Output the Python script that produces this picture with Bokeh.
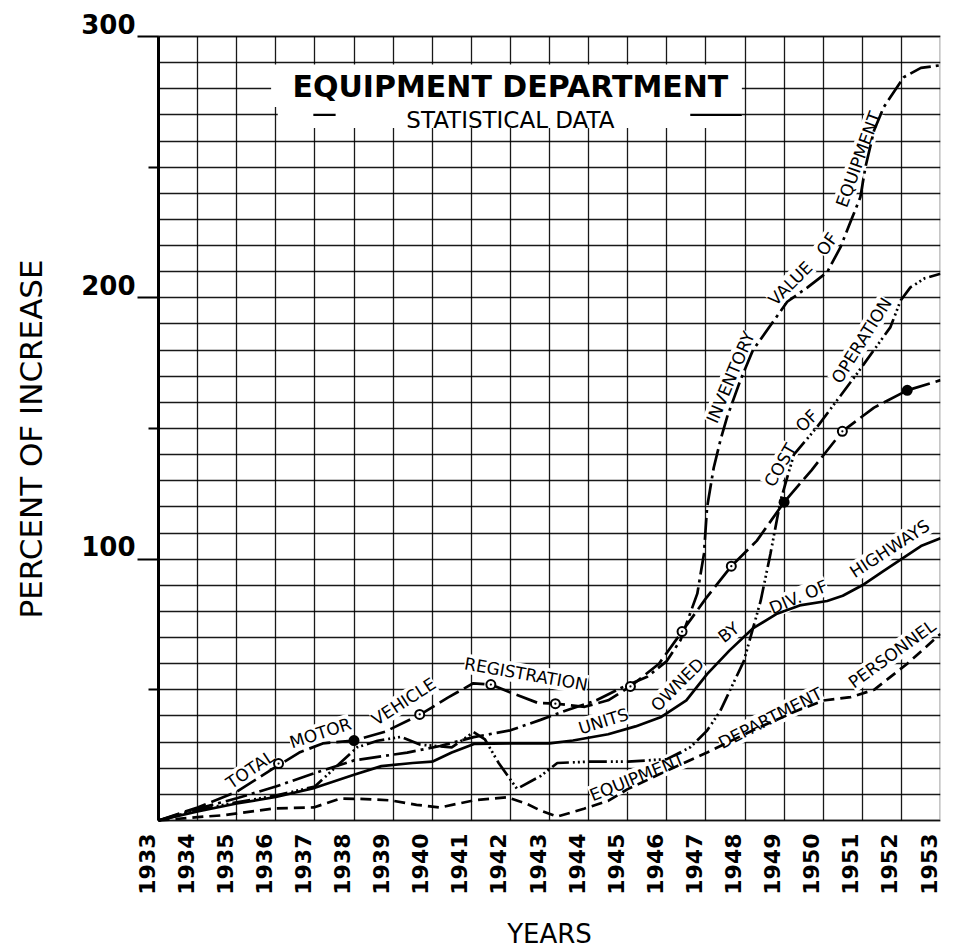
import math
from bokeh.plotting import figure
from bokeh.models import (FixedTicker, Label, LabelSet, ColumnDataSource, Grid,
                          BoxAnnotation, Range1d, CustomJSTickFormatter)
from bokeh.embed import file_html
from bokeh.resources import INLINE
from bokeh.core.properties import value

# ---------------- data ----------------
years = list(range(1933, 1954))
year_labels = [str(y) for y in years]
y_tick_values = [100, 200, 300]
y_tick_labels = ["100", "200", "300"]
y_minor_values = [50, 150, 250]
y_grid_values = list(range(0, 301, 10))

title_text = "EQUIPMENT DEPARTMENT"
subtitle_text = "STATISTICAL DATA"
x_title = "YEARS"
y_title = "PERCENT OF INCREASE"

# Total motor vehicle registration
reg_x = [1933, 1934, 1935, 1936, 1936.6, 1937.2, 1938, 1938.8, 1939.7, 1940.4, 1941.05,
         1941.5, 1942, 1942.7, 1943.15, 1943.9, 1944.5, 1945.07, 1945.8, 1946.39, 1947,
         1947.65, 1948.3, 1949.0, 1949.7, 1950.49, 1951.3, 1952.15, 1953]
reg_y = [0, 5, 11, 20.5, 26, 29.5, 30.6, 34, 40.6, 47, 52.5,
         52, 49, 45, 44.7, 43.5, 46, 51.3, 60, 72.3, 85,
         97.3, 107, 121.8, 134, 148.9, 158, 164.6, 168.5]
reg_mark_x = [1936.07, 1938.0, 1939.68, 1941.5, 1943.15, 1945.07, 1946.39, 1947.65, 1949.0, 1950.49, 1952.15]
reg_mark_y = [21.8, 30.6, 40.6, 52, 44.7, 51.3, 72.3, 97.3, 121.8, 148.9, 164.6]
reg_mark_filled = [False, True, False, False, False, False, False, False, True, False, True]

# Units owned by Div. of Highways
units_x = [1933, 1934, 1935, 1936, 1937, 1938, 1938.7, 1939.5, 1940, 1940.5, 1941.07,
           1942, 1943, 1943.6, 1944.5, 1945.2, 1945.84, 1946.5, 1947.03, 1947.6, 1948.2,
           1948.8, 1949.4, 1950.1, 1950.5, 1951, 1951.5, 1952, 1952.5, 1953]
units_y = [0, 3.5, 6.5, 9, 12.5, 17.5, 20.8, 22, 22.5, 26, 29.3,
           29.5, 29.5, 30.6, 33, 36, 39.5, 46, 56, 65, 73.5,
           79, 82.3, 84, 86, 90, 95, 100, 105, 108]

# Equipment department personnel
pers_x = [1933, 1934, 1934.66, 1935.95, 1936.97, 1937.65, 1938.3, 1938.93, 1939.6, 1940.2,
          1941.06, 1941.92, 1942.4, 1942.77, 1943.2, 1943.88, 1944.5, 1945.0, 1946.0, 1947.03,
          1948.2, 1949.25, 1950.0, 1950.7, 1951.3, 1952.15, 1953]
pers_y = [0, 1.3, 2, 4.6, 5, 8.4, 8.2, 7.7, 6, 5,
          7.7, 8.9, 6.5, 3.8, 1.5, 4.5, 7.5, 12, 19, 26,
          34.5, 41.5, 45.9, 47.2, 50, 60, 71.4]

# Inventory value of equipment
inv_x = [1933, 1934, 1935, 1936, 1936.97, 1938, 1939.36, 1940.2, 1941.06, 1942, 1942.77,
         1943.5, 1944.2, 1944.8, 1945.5, 1946, 1946.35, 1946.78, 1946.95, 1947.03, 1947.2,
         1947.37, 1947.54, 1947.88, 1948.2, 1948.74, 1949.08, 1949.6, 1950.1, 1950.44,
         1950.75, 1950.95, 1951.08, 1951.3, 1951.55, 1952.06, 1952.5, 1953]
inv_y = [0, 4.5, 8.5, 13, 18, 23, 26, 28.5, 31.9, 34.5, 38.5,
         42.5, 46, 50.5, 55, 61, 69, 86.8, 102, 119.8, 135,
         145.4, 154.3, 168.4, 179.9, 191.3, 198.5, 204, 209.8, 219.3,
         231, 238.5, 250, 264, 273, 284.4, 288, 289]

# Cost of operation
cost_x = [1933, 1934, 1935, 1936, 1937, 1937.5, 1938.08, 1938.6, 1939.2, 1939.7, 1940.5,
          1941.06, 1941.35, 1941.7, 1942.17, 1942.77, 1943.2, 1944, 1945, 1946, 1946.6,
          1947.03, 1947.37, 1947.97, 1948.4, 1948.65, 1948.91, 1949.25, 1949.84, 1950.86,
          1951.72, 1951.98, 1952.23, 1952.6, 1953]
cost_y = [0, 4, 7, 9.5, 13, 20, 28, 30.5, 32, 29, 28,
          33.8, 31, 22, 12.1, 17, 22, 22.5, 22.5, 23.5, 28,
          34.4, 42, 61, 84, 102, 122.5, 140, 150.5, 170.9,
          188.8, 199, 204, 207.5, 209.2]

# curve annotations
lab_text = ["TOTAL", "MOTOR", "VEHICLE", "REGISTRATION",
            "UNITS", "OWNED", "BY", "DIV. OF", "HIGHWAYS",
            "EQUIPMENT", "DEPARTMENT", "PERSONNEL",
            "INVENTORY", "VALUE", "OF", "EQUIPMENT",
            "COST", "OF", "OPERATION"]
lab_x = [1935.35, 1937.14, 1939.27, 1942.4,
         1944.38, 1946.27, 1947.58, 1949.37, 1951.7,
         1945.24, 1948.65, 1951.76,
         1947.63, 1949.16, 1950.1, 1950.9,
         1948.9, 1949.58, 1950.98]
lab_y = [19.5, 33.5, 45.5, 56,
         38, 52, 72, 85.5, 104,
         16.6, 39.2, 63.7,
         169.6, 205.5, 220.6, 253,
         136, 153, 183.7]
lab_angle = [34, 18, 33, -10,
             17, 45, 38, 23, 33,
             22, 27, 36,
             67, 45, 55, 70,
             60, 45, 58]

FONT = "DejaVu Sans"

# ---------------- layout ----------------
W, H = 950, 950
FL, FR, FT, FB = 0, 10, 2, 2          # frame borders (px)
PX_X0, PX_X1 = 158, 940               # pixel position of 1933 / 1953
PX_Y0, PX_Y1 = 820, 36                # pixel position of 0 / 300
x0, x1 = years[0], years[-1]
y0, y1 = 0, 300
sx = (PX_X1 - PX_X0) / (x1 - x0)
sy = (PX_Y0 - PX_Y1) / (y1 - y0)
xr = Range1d(x0 - (PX_X0 - FL) / sx, x1 + ((W - FR) - PX_X1) / sx)
yr = Range1d(y0 - ((H - FB) - PX_Y0) / sy, y1 + (PX_Y1 - FT) / sy)

p = figure(width=W, height=H, x_range=xr, y_range=yr,
           x_axis_location=None, y_axis_location="right",
           output_backend="svg", toolbar_location=None,
           min_border_left=FL, min_border_right=FR,
           min_border_top=FT, min_border_bottom=FB)
p.outline_line_color = None
p.background_fill_color = "white"
p.border_fill_color = "white"

# remove default grids, add bounded ones
p.center = [r for r in p.center if not isinstance(r, Grid)]
has_cross = "cross_bounds" in Grid.properties()
GRID_STYLE = dict(grid_line_color="black", grid_line_width=1.3, grid_line_alpha=0.9)
if has_cross:
    p.add_layout(Grid(dimension=0, ticker=FixedTicker(ticks=years),
                      bounds=(x0, x1), cross_bounds=(y0, y1), **GRID_STYLE))
    p.add_layout(Grid(dimension=1, ticker=FixedTicker(ticks=y_grid_values),
                      bounds=(y0, y1), cross_bounds=(x0, x1), **GRID_STYLE))
else:
    r1 = p.segment(x0=years, y0=[y0] * len(years), x1=years, y1=[y1] * len(years),
                   line_color="black", line_width=1.3, line_alpha=0.9)
    r2 = p.segment(x0=[x0] * len(y_grid_values), y0=y_grid_values,
                   x1=[x1] * len(y_grid_values), y1=y_grid_values,
                   line_color="black", line_width=1.3, line_alpha=0.9)
    r1.level = "underlay"
    r2.level = "underlay"

# value axis drawn at 1933; it lives in the right panel, so "in" ticks point left (outwards)
ax = p.yaxis[0]
ax.fixed_location = x0
ax.bounds = (y0, y1)
ax.ticker = FixedTicker(ticks=y_tick_values, minor_ticks=y_minor_values)
ax.formatter = CustomJSTickFormatter(code="return ''")
ax.major_label_standoff = 0
ax.axis_line_width = 3
ax.major_tick_out = 0
ax.major_tick_in = 21
ax.major_tick_line_width = 2
ax.minor_tick_out = 0
ax.minor_tick_in = 10
ax.minor_tick_line_width = 2

# frame of the chart area
p.add_layout(BoxAnnotation(left=x0, right=x1, bottom=y0, top=y1, fill_alpha=0,
                           line_color="black", line_width=2.5))

# title panel (white box hiding the grid)
p.add_layout(BoxAnnotation(left=1935.88, right=1947.92, bottom=273, top=289.3,
                           fill_color="white", fill_alpha=1, line_color=None, level="underlay"))
p.add_layout(BoxAnnotation(left=1936.05, right=1947.92, bottom=265, top=273,
                           fill_color="white", fill_alpha=1, line_color=None, level="underlay"))
p.add_layout(BoxAnnotation(left=1936.96, right=1937.53, bottom=269.6, top=270.4,
                           fill_color="black", fill_alpha=1, line_color=None, level="underlay"))
p.add_layout(BoxAnnotation(left=1946.6, right=1947.92, bottom=269.6, top=270.4,
                           fill_color="black", fill_alpha=1, line_color=None, level="underlay"))

p.add_layout(Label(x=1942.0, y=280.7, text=title_text, text_align="center",
                   text_baseline="middle", text_font=FONT, text_font_style="bold",
                   text_font_size="30px", text_color="black"))
p.add_layout(Label(x=1942.0, y=267.9, text=subtitle_text, text_align="center",
                   text_baseline="middle", text_font=FONT, text_font_size="23px",
                   text_color="black"))

# curve labels (white halo hides the grid behind them)
lab_src = ColumnDataSource(dict(x=lab_x, y=lab_y, text=lab_text, angle=lab_angle))
p.add_layout(LabelSet(x="x", y="y", text="text", angle="angle", angle_units="deg",
                      source=lab_src, text_align="center", text_baseline="middle",
                      text_font=value(FONT), text_font_size="17px", text_color="black",
                      background_fill_color="white", level="underlay"))

# curves
LW = 2.7
p.line(units_x, units_y, line_width=LW, line_color="black", line_join="round")
p.line(pers_x, pers_y, line_width=LW, line_color="black", line_dash="11 6")
p.line(inv_x, inv_y, line_width=LW, line_color="black", line_dash="22 5 3 5")
p.line(cost_x, cost_y, line_width=LW, line_color="black", line_dash="18 4 2 3 2 3 2 4")
p.line(reg_x, reg_y, line_width=LW, line_color="black", line_dash="22 6")
p.scatter(reg_mark_x, reg_mark_y, marker="circle_dot", size=9, line_color="black", line_width=2,
          fill_color=["black" if f else "white" for f in reg_mark_filled])

# axis texts
yl_src = ColumnDataSource(dict(x=[x0] * len(y_tick_values), y=y_tick_values, text=y_tick_labels))
p.add_layout(LabelSet(x="x", y="y", text="text", source=yl_src, x_offset=-23, y_offset=3,
                      text_align="right", text_baseline="alphabetic", text_font=value(FONT),
                      text_font_style="bold", text_font_size="26px", text_color="black"))

xl_src = ColumnDataSource(dict(x=years, y=[y0] * len(years), text=year_labels))
p.add_layout(LabelSet(x="x", y="y", text="text", source=xl_src, angle=math.pi / 2,
                      x_offset=-4, y_offset=-13, text_align="right", text_baseline="bottom",
                      text_font=value(FONT), text_font_style="bold", text_font_size="22px",
                      text_color="black"))

p.add_layout(Label(x=x0, y=146, x_offset=-128, angle=math.pi / 2, text=y_title,
                   text_align="center", text_baseline="middle", text_font=FONT,
                   text_font_size="31px", text_color="black"))
p.add_layout(Label(x=1943, y=y0, y_offset=-113, text=x_title, text_align="center",
                   text_baseline="middle", text_font=FONT, text_font_size="26px",
                   text_color="black"))

open("out.html", "w").write(file_html(p, INLINE))
